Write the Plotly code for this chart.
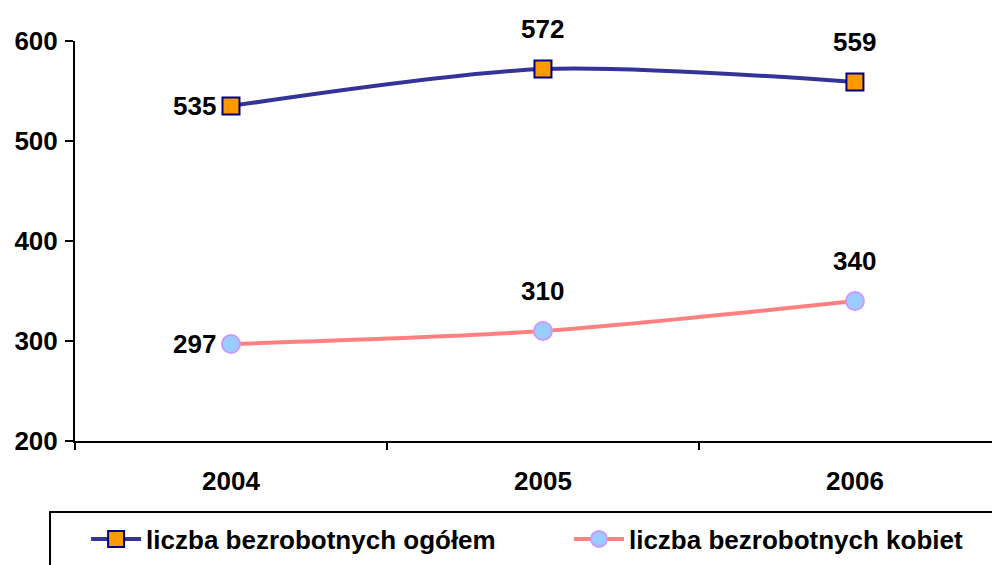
import plotly.graph_objects as go

# data
years = ["2004", "2005", "2006"]
total_unemployed = [535, 572, 559]
women_unemployed = [297, 310, 340]

total_name = "liczba bezrobotnych ogółem"
women_name = "liczba bezrobotnych kobiet"

FONT = "Liberation Sans, Arial, sans-serif"

fig = go.Figure()

fig.add_trace(go.Scatter(
    x=years, y=total_unemployed, name=total_name,
    mode="lines+markers", legend="legend",
    line=dict(color="#333399", width=4, shape="spline", smoothing=0.8),
    marker=dict(symbol="square", size=17, color="#FF9900",
                line=dict(color="#000080", width=2)),
))

fig.add_trace(go.Scatter(
    x=years, y=women_unemployed, name=women_name,
    mode="lines+markers", legend="legend2",
    line=dict(color="#FF8080", width=4, shape="spline", smoothing=0.8),
    marker=dict(symbol="circle", size=18, color="#99CCFF",
                line=dict(color="#CC99FF", width=2)),
))

# value labels: first point to the left of the marker, the others above it
for series in (total_unemployed, women_unemployed):
    for i, val in enumerate(series):
        if i == 0:
            fig.add_annotation(x=i, y=val, xref="x", yref="y", text=f"<b>{val}</b>",
                               showarrow=False, xanchor="right", yanchor="middle",
                               xshift=-13, font=dict(family=FONT, size=26, color="black"))
        else:
            fig.add_annotation(x=i, y=val, xref="x", yref="y", text=f"<b>{val}</b>",
                               showarrow=False, xanchor="center", yanchor="middle",
                               yshift=40, font=dict(family=FONT, size=26, color="black"))

# legend frame
fig.add_shape(type="rect", xref="paper", yref="paper",
              x0=-0.027, x1=0.998, y0=-0.1775, y1=-0.4,
              line=dict(color="black", width=2), fillcolor="white", layer="below")

legend_style = dict(
    orientation="h", y=-0.245, xanchor="left", yanchor="middle",
    font=dict(family=FONT, size=26, color="black", weight="bold"),
    bgcolor="rgba(0,0,0,0)", itemwidth=50,
)

# the page body adds an 8px offset, so the figure is 8px smaller than the window
fig.update_layout(
    width=992, height=557,
    margin=dict(l=67, r=0, t=33, b=124),
    paper_bgcolor="white", plot_bgcolor="white",
    font=dict(family=FONT, size=26, color="black"),
    showlegend=True,
    legend=dict(x=0.012, **legend_style),
    legend2=dict(x=0.534, **legend_style),
)

fig.update_xaxes(
    type="category", range=[-0.5, 2.465],
    showline=True, linecolor="black", linewidth=2,
    ticks="outside", ticklen=7, tickcolor="black", tickwidth=2,
    tickson="boundaries", showgrid=False, zeroline=False,
    ticklabelstandoff=16,
    tickfont=dict(size=26, weight="bold"),
)
fig.update_yaxes(
    range=[200, 600], dtick=100,
    showline=True, linecolor="black", linewidth=2,
    ticks="outside", ticklen=8, tickcolor="black", tickwidth=2,
    showgrid=False, zeroline=False,
    ticklabelstandoff=2,
    tickfont=dict(size=26, weight="bold"),
)

fig.write_html("out.html")
